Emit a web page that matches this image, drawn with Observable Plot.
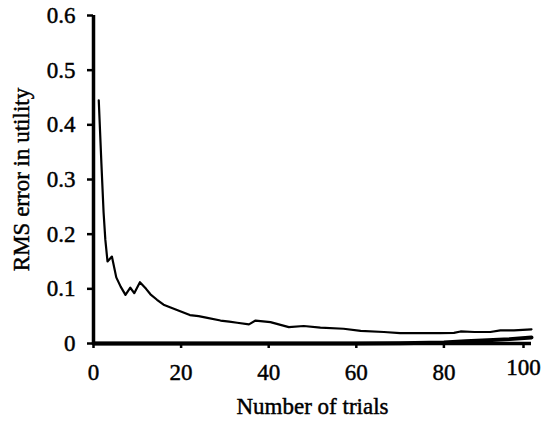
<!DOCTYPE html>
<html>
<head>
<meta charset="utf-8">
<script src="https://cdn.jsdelivr.net/npm/d3@7"></script>
<script src="https://cdn.jsdelivr.net/npm/@observablehq/plot@0.6"></script>
<style>
  html, body { margin: 0; padding: 0; background: #fff; }
  #chart svg text { font-size: 23px !important; font-family: 'Liberation Serif', 'Times New Roman', serif !important; fill: #000; stroke: #000; stroke-width: 0.45px; }
</style>
</head>
<body>
<div id="chart"></div>
<script>
// Upper curve: RMS error in utility vs number of trials
const trials = [1.2, 1.8, 2.3, 2.7, 3.2, 4.2, 5.2, 6.2, 7.3, 8.4, 9.3, 10.6, 12, 13, 14.5, 16, 17.6, 19.5, 22, 24, 26, 29, 31, 32.8, 35.5, 37, 40.4, 42.7, 44.6, 48, 51.8, 57.1, 61, 66.3, 70, 73.9, 79.2, 82.3, 83.8, 87, 90.6, 92.9, 96, 100];
const rmsError = [0.445, 0.33, 0.24, 0.19, 0.15, 0.159, 0.121, 0.104, 0.089, 0.102, 0.092, 0.112, 0.100, 0.090, 0.080, 0.071, 0.066, 0.060, 0.052, 0.050, 0.047, 0.042, 0.040, 0.038, 0.035, 0.042, 0.039, 0.034, 0.030, 0.032, 0.029, 0.027, 0.023, 0.021, 0.019, 0.019, 0.019, 0.0195, 0.022, 0.021, 0.021, 0.024, 0.024, 0.026];

// Lower thick curve near zero
const lowTrials = [0, 60, 70, 80, 85, 90, 95, 100];
const lowValues = [0, 0, 0.0005, 0.002, 0.004, 0.006, 0.008, 0.011];

const xTicks = [0, 20, 40, 60, 80];
const xLastTick = [100];
const yTicks = [0, 0.1, 0.2, 0.3, 0.4, 0.5, 0.6];
const xLabel = "Number of trials";
const yLabel = "RMS error in utility";

const upper = trials.map((t, i) => ({trial: t, value: rmsError[i]}));
const lower = lowTrials.map((t, i) => ({trial: t, value: lowValues[i]}));

const chart = Plot.plot({
  width: 546,
  height: 424,
  marginLeft: 93,
  marginRight: 15,
  marginTop: 15,
  marginBottom: 81,
  style: {fontFamily: "'Liberation Serif', 'Times New Roman', serif", fontSize: "23px", color: "#000", background: "#fff"},
  x: {domain: [0, 100]},
  y: {domain: [0, 0.6]},
  marks: [
    Plot.axisX({ticks: xTicks, tickSize: 5, tickPadding: 15, tickFormat: d => String(d), label: xLabel, labelAnchor: "center", labelArrow: "none", labelOffset: 70, strokeWidth: 2.5}),
    Plot.axisX({ticks: xLastTick, tickSize: 5, tickPadding: 10, tickFormat: d => String(d), label: null, strokeWidth: 2.5, dx: -8}),
    Plot.axisY({ticks: yTicks, tickSize: 6, tickPadding: 12, tickFormat: d => d === 0 ? "0" : d.toFixed(1), label: yLabel, labelAnchor: "center", labelArrow: "none", labelOffset: 81, strokeWidth: 2.5}),
    Plot.ruleX([0], {stroke: "#000", strokeWidth: 3.5}),
    Plot.ruleY([0], {stroke: "#000", strokeWidth: 3.5}),
    Plot.line(lower, {x: "trial", y: "value", stroke: "#000", strokeWidth: 4}),
    Plot.line(upper, {x: "trial", y: "value", stroke: "#000", strokeWidth: 2.2})
  ]
});
document.getElementById("chart").appendChild(chart);
</script>
</body>
</html>
